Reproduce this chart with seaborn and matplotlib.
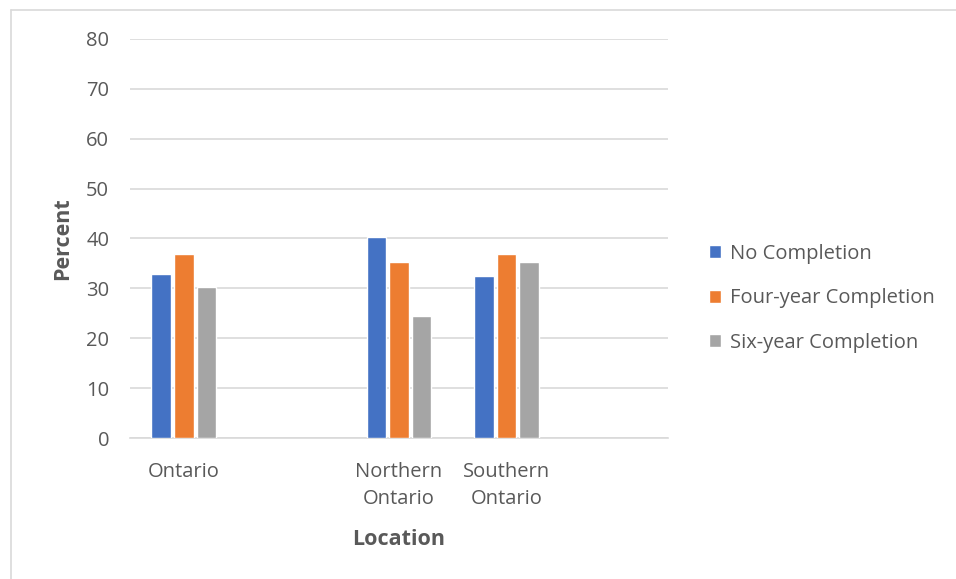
import matplotlib
matplotlib.use("Agg")
import matplotlib.pyplot as plt
import seaborn as sns
import pandas as pd
from matplotlib.lines import Line2D

# Category slots along the x axis (two of them are left empty on purpose)
slots = ["Ontario", "_gap1", "Northern Ontario", "Southern Ontario", "_gap2"]
slot_labels = ["Ontario", "", "Northern\nOntario", "Southern\nOntario", ""]

locations = ["Ontario", "Northern Ontario", "Southern Ontario"]
series = ["No Completion", "Four-year Completion", "Six-year Completion"]
no_completion = [32.9, 40.3, 32.5]
four_year = [36.8, 35.2, 36.9]
six_year = [30.3, 24.5, 35.2]
y_ticks = [0, 10, 20, 30, 40, 50, 60, 70, 80]

colors = ["#4472C4", "#ED7D31", "#A5A5A5"]
text_color = "#595959"

rows = []
for name, vals in zip(series, [no_completion, four_year, six_year]):
    for loc, v in zip(locations, vals):
        rows.append({"Location": loc, "Series": name, "Percent": v})
df = pd.DataFrame(rows)

sns.set_theme(style="white")
plt.rcParams["font.family"] = ["Open Sans", "DejaVu Sans"]

fig = plt.figure(figsize=(9.56, 5.79), dpi=100)
ax = fig.add_axes([130 / 956, 1 - 438 / 579, (668 - 130) / 956, (438 - 39) / 579])

sns.barplot(data=df, x="Location", y="Percent", hue="Series", order=slots,
            hue_order=series, palette=colors, width=0.63, gap=0.14,
            saturation=1, ax=ax, legend=True, zorder=3)

ax.set_ylim(0, 80)
ax.set_xlim(-0.5, len(slots) - 0.5)
ax.set_yticks(y_ticks)
ax.set_yticklabels([str(t) for t in y_ticks], color=text_color, fontsize=14.5)
ax.set_xticks(range(len(slots)))
ax.set_xticklabels(slot_labels, color=text_color, fontsize=14.5, linespacing=1.42)
ax.tick_params(axis="both", length=0)
ax.tick_params(axis="y", pad=15)
ax.tick_params(axis="x", pad=17.5)
ax.yaxis.grid(True, color="#D9D9D9", linewidth=1.2, zorder=0)
ax.set_axisbelow(True)
for side in ["top", "right", "left"]:
    ax.spines[side].set_visible(False)
ax.spines["bottom"].set_color("#D9D9D9")
ax.spines["bottom"].set_linewidth(1.2)

ax.set_ylabel("Percent", fontsize=15.5, fontweight="bold", color=text_color, labelpad=9)
ax.set_xlabel("Location", fontsize=15.5, fontweight="bold", color=text_color, labelpad=15)

leg = ax.legend(loc="center left", bbox_to_anchor=(1.043, 0.35), frameon=False,
                fontsize=14.5, handlelength=0.6, handleheight=0.6,
                handletextpad=0.45, labelspacing=1.22)
for t in leg.get_texts():
    t.set_color(text_color)

# light chart-area frame (left and top edges)
frame_x = 11 / 956
frame_y = 1 - 10 / 579
fig.add_artist(Line2D([frame_x, frame_x], [0, frame_y], transform=fig.transFigure,
                      color="#D9D9D9", linewidth=1.2))
fig.add_artist(Line2D([frame_x, 1], [frame_y, frame_y], transform=fig.transFigure,
                      color="#D9D9D9", linewidth=1.2))

fig.savefig("out.png", dpi=100, facecolor="white")
